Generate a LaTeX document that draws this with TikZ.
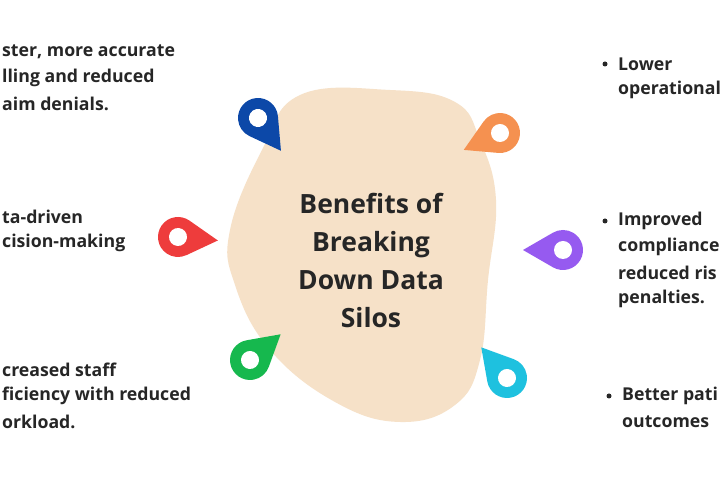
\documentclass[tikz,border=0pt]{standalone}
\usepackage{fontspec}
\setmainfont{Open Sans}
\definecolor{cblue}{RGB}{12,72,168}
\definecolor{corange}{RGB}{245,145,80}
\definecolor{cred}{RGB}{238,60,60}
\definecolor{cpurple}{RGB}{150,90,240}
\definecolor{cgreen}{RGB}{22,184,78}
\definecolor{ccyan}{RGB}{30,193,223}
\definecolor{cblob}{RGB}{246,225,200}
\begin{document}
\begin{tikzpicture}[x=1pt,y=1pt,
  txt/.style={anchor=west,inner sep=0,font=\bfseries\fontsize{17.7}{22}\selectfont,text=black!85},
  ttl/.style={align=center,font=\bfseries\fontsize{26.5}{38}\selectfont,text=black!85},
  bul/.style={circle,fill=black!85,inner sep=0,minimum size=5pt}]
\useasboundingbox (0,0) rectangle (720,500);
\clip (0,0) rectangle (720,500);
\fill[white] (0,0) rectangle (720,500);
\fill[cblob] plot[smooth cycle,tension=0.7] coordinates
 {(300,405) (390,410) (455,398) (480,360) (496,300) (488,220) (480,140) (455,95) (400,78) (335,98) (270,150) (235,215) (230,270) (262,350)};
\newcommand{\mypin}[5]{%
 \begin{scope}[shift={(#1,#2)},rotate=#3]
  \fill[#4] (40,0) -- (60:20) arc[start angle=60,end angle=300,radius=20] -- cycle;
  \fill[white] (0,0) circle (9);
  \coordinate (#5) at (0,0);
 \end{scope}}
\mypin{258}{382}{-55}{cblue}{pb}
\mypin{500}{367}{205}{corange}{po}
\mypin{178}{263}{-5}{cred}{pr}
\mypin{563}{250}{180}{cpurple}{pp}
\mypin{250}{140}{40}{cgreen}{pg}
\mypin{507}{122}{130}{ccyan}{pc}
\node[ttl] (title) at (371,240) {Benefits of\\Breaking\\Down Data\\Silos};
\node[txt] (l1) at (2,448) {ster, more accurate};
\node[txt] (l2) at (2,422) {lling and reduced};
\node[txt] (l3) at (2,396) {aim denials.};
\node[txt] (m1) at (2,283) {ta-driven};
\node[txt] (m2) at (2,257) {cision-making};
\node[txt] (b1) at (2,130) {creased staff};
\node[txt] (b2) at (2,104) {ficiency with reduced};
\node[txt] (b3) at (2,78) {orkload.};
\node[bul] (d1) at (605,436) {};
\node[txt] (r1) at (618,436) {Lower};
\node[txt] (r2) at (618,410) {operational};
\node[bul] (d2) at (605,279) {};
\node[txt] (r3) at (618,279) {Improved};
\node[txt] (r4) at (618,253) {compliance};
\node[txt] (r5) at (618,227) {reduced ris};
\node[txt] (r6) at (618,201) {penalties.};
\node[bul] (d3) at (609,104) {};
\node[txt] (r7) at (622,104) {Better pati};
\node[txt] (r8) at (622,78) {outcomes};
\end{tikzpicture}
\end{document}
